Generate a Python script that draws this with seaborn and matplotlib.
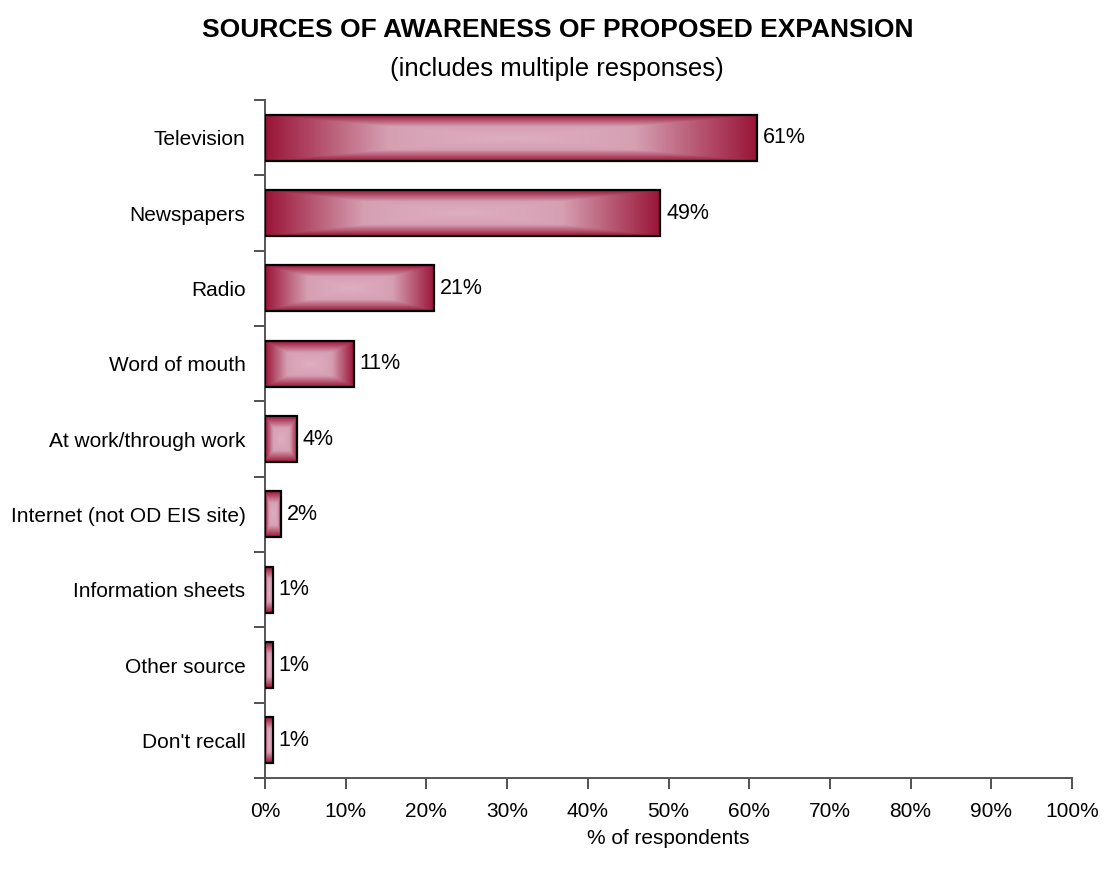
import numpy as np
import pandas as pd
import matplotlib
matplotlib.use("Agg")
import matplotlib.pyplot as plt
from matplotlib.colors import LinearSegmentedColormap
from matplotlib.ticker import FixedLocator
import seaborn as sns

# Survey results: sources of awareness (multiple responses allowed)
sources = [
    "Television",
    "Newspapers",
    "Radio",
    "Word of mouth",
    "At work/through work",
    "Internet (not OD EIS site)",
    "Information sheets",
    "Other source",
    "Don't recall",
]
percent = [61, 49, 21, 11, 4, 2, 1, 1, 1]
x_ticks = [0, 10, 20, 30, 40, 50, 60, 70, 80, 90, 100]

sns.set_theme(style="white")
plt.rcParams["font.family"] = ["Liberation Sans", "DejaVu Sans"]
plt.rcParams["text.color"] = "black"
plt.rcParams["axes.labelcolor"] = "black"
plt.rcParams["xtick.labelcolor"] = "black"
plt.rcParams["ytick.labelcolor"] = "black"

df = pd.DataFrame({"source": sources, "percent": percent})

fig = plt.figure(figsize=(11.08, 8.69), dpi=100)
ax = fig.add_axes([0.2392, 0.1047, 0.7283, 0.7802])

sns.barplot(data=df, x="percent", y="source", order=sources, orient="h",
            color="#9A1538", width=0.61, edgecolor="black", linewidth=1.6,
            ax=ax, zorder=2)

# Box-shaped "from center" gradient fill for each bar
cmap = LinearSegmentedColormap.from_list("bar", ["#DFAEC1", "#D6A0B3", "#9A1538"])
n = 200
u = np.linspace(-1, 1, n)
U, V = np.meshgrid(u, u)
grad = np.maximum(np.abs(U), np.abs(V))
for patch in ax.patches:
    x0, y0 = patch.get_x(), patch.get_y()
    w, h = patch.get_width(), patch.get_height()
    im = ax.imshow(grad, cmap=cmap, vmin=0, vmax=1, aspect="auto",
                   extent=(x0, x0 + w, y0 + h, y0), interpolation="bilinear",
                   zorder=2.5)
    im.set_clip_path(patch)
    patch.set_facecolor("none")
    patch.set_zorder(3)

# Value labels next to bars
for i, v in enumerate(percent):
    ax.text(v + 0.7, i, f"{v}%", va="center", ha="left", fontsize=15.5)

ax.set_xlim(0, 100)
ax.set_ylim(len(sources) - 0.5, -0.5)
ax.set_xticks(x_ticks)
ax.set_xticklabels([f"{t}%" for t in x_ticks], fontsize=15)
ax.set_yticks(range(len(sources)))
ax.set_yticklabels(sources, fontsize=15)
ax.yaxis.set_minor_locator(FixedLocator(np.arange(-0.5, len(sources), 1.0)))
ax.tick_params(axis="y", which="major", length=0, pad=14)
ax.tick_params(axis="y", which="minor", length=8, width=1.2, color="#333333", left=True)
ax.tick_params(axis="x", which="major", length=8, width=1.2, color="#333333",
               bottom=True, pad=9)
ax.set_xlabel("% of respondents", fontsize=15, labelpad=6)
ax.set_ylabel("")

for side in ["top", "right"]:
    ax.spines[side].set_visible(False)
for side in ["left", "bottom"]:
    ax.spines[side].set_color("#555555")
    ax.spines[side].set_linewidth(1.4)
ax.grid(False)

fig.text(0.503, 0.966, "SOURCES OF AWARENESS OF PROPOSED EXPANSION",
         ha="center", va="center", fontsize=19, fontweight="bold")
fig.text(0.503, 0.921, "(includes multiple responses)",
         ha="center", va="center", fontsize=18.5)

fig.savefig("out.png", dpi=100)
